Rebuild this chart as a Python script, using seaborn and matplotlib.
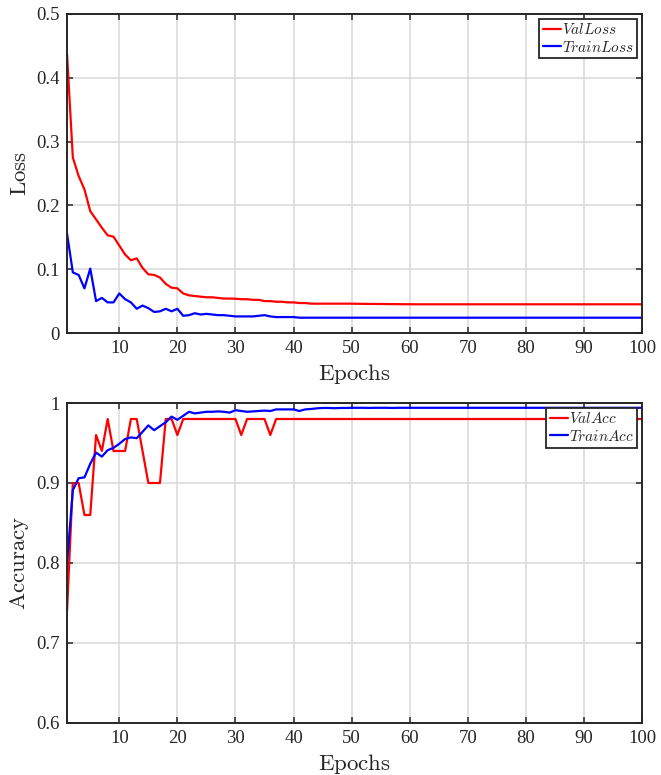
import numpy as np
import pandas as pd
import matplotlib
matplotlib.use("Agg")
import matplotlib.pyplot as plt
import seaborn as sns

epochs = list(range(1, 101))

val_loss = [0.437, 0.275, 0.246, 0.225, 0.191, 0.178, 0.165, 0.153, 0.151, 0.137,
            0.123, 0.114, 0.117, 0.102, 0.092, 0.091, 0.087, 0.077, 0.071, 0.070,
            0.062, 0.059, 0.058, 0.057, 0.056, 0.056, 0.055, 0.054, 0.054, 0.0537,
            0.053, 0.053, 0.052, 0.052, 0.050, 0.050, 0.049, 0.049, 0.048, 0.048,
            0.047, 0.047, 0.046, 0.046, 0.046, 0.046, 0.046, 0.046, 0.046, 0.046,
            0.0458, 0.0457, 0.0456, 0.0455, 0.0455, 0.0454, 0.0453, 0.0452, 0.0451, 0.0451,
            0.045, 0.045, 0.045, 0.045, 0.045, 0.045, 0.045, 0.045, 0.045, 0.045,
            0.045, 0.045, 0.045, 0.045, 0.045, 0.045, 0.045, 0.045, 0.045, 0.045,
            0.045, 0.045, 0.045, 0.045, 0.045, 0.045, 0.045, 0.045, 0.045, 0.045,
            0.045, 0.045, 0.045, 0.045, 0.045, 0.045, 0.045, 0.045, 0.045, 0.045]

train_loss = [0.156, 0.095, 0.091, 0.070, 0.101, 0.050, 0.055, 0.048, 0.048, 0.062,
              0.053, 0.048, 0.038, 0.043, 0.039, 0.033, 0.034, 0.038, 0.034, 0.038,
              0.027, 0.028, 0.031, 0.029, 0.030, 0.029, 0.028, 0.028, 0.027, 0.026,
              0.026, 0.026, 0.026, 0.027, 0.028, 0.026, 0.025, 0.025, 0.025, 0.025,
              0.024, 0.024, 0.024, 0.024, 0.024, 0.024, 0.024, 0.024, 0.024, 0.024,
              0.024, 0.024, 0.024, 0.024, 0.024, 0.024, 0.024, 0.024, 0.024, 0.024,
              0.024, 0.024, 0.024, 0.024, 0.024, 0.024, 0.024, 0.024, 0.024, 0.024,
              0.024, 0.024, 0.024, 0.024, 0.024, 0.024, 0.024, 0.024, 0.024, 0.024,
              0.024, 0.024, 0.024, 0.024, 0.024, 0.024, 0.024, 0.024, 0.024, 0.024,
              0.024, 0.024, 0.024, 0.024, 0.024, 0.024, 0.024, 0.024, 0.024, 0.024]

val_acc = [0.74, 0.90, 0.90, 0.86, 0.86, 0.96, 0.94, 0.98, 0.94, 0.94,
           0.94, 0.98, 0.98, 0.94, 0.90, 0.90, 0.90, 0.98, 0.98, 0.96,
           0.98, 0.98, 0.98, 0.98, 0.98, 0.98, 0.98, 0.98, 0.98, 0.98,
           0.96, 0.98, 0.98, 0.98, 0.98, 0.96, 0.98, 0.98, 0.98, 0.98,
           0.98, 0.98, 0.98, 0.98, 0.98, 0.98, 0.98, 0.98, 0.98, 0.98,
           0.98, 0.98, 0.98, 0.98, 0.98, 0.98, 0.98, 0.98, 0.98, 0.98,
           0.98, 0.98, 0.98, 0.98, 0.98, 0.98, 0.98, 0.98, 0.98, 0.98,
           0.98, 0.98, 0.98, 0.98, 0.98, 0.98, 0.98, 0.98, 0.98, 0.98,
           0.98, 0.98, 0.98, 0.98, 0.98, 0.98, 0.98, 0.98, 0.98, 0.98,
           0.98, 0.98, 0.98, 0.98, 0.98, 0.98, 0.98, 0.98, 0.98, 0.98]

train_acc = [0.800, 0.891, 0.906, 0.907, 0.924, 0.938, 0.933, 0.941, 0.944, 0.949,
             0.955, 0.957, 0.956, 0.964, 0.972, 0.966, 0.971, 0.976, 0.983, 0.979,
             0.984, 0.989, 0.987, 0.988, 0.989, 0.989, 0.9895, 0.989, 0.988, 0.991,
             0.990, 0.989, 0.9895, 0.990, 0.9905, 0.990, 0.992, 0.992, 0.992, 0.992,
             0.990, 0.992, 0.9925, 0.9933, 0.9938, 0.9938, 0.9935, 0.9938, 0.9938, 0.994,
             0.994, 0.994, 0.9938, 0.994, 0.994, 0.994, 0.9938, 0.994, 0.994, 0.994,
             0.994, 0.994, 0.994, 0.994, 0.994, 0.994, 0.994, 0.994, 0.994, 0.994,
             0.994, 0.994, 0.994, 0.994, 0.994, 0.994, 0.994, 0.994, 0.994, 0.994,
             0.994, 0.994, 0.994, 0.994, 0.994, 0.994, 0.994, 0.994, 0.994, 0.994,
             0.994, 0.994, 0.994, 0.994, 0.994, 0.994, 0.994, 0.994, 0.994, 0.994]

x_ticks = [10, 20, 30, 40, 50, 60, 70, 80, 90, 100]
loss_ticks = [0, 0.1, 0.2, 0.3, 0.4, 0.5]
loss_tick_labels = ["0", "0.1", "0.2", "0.3", "0.4", "0.5"]
acc_ticks = [0.6, 0.7, 0.8, 0.9, 1.0]
acc_tick_labels = ["0.6", "0.7", "0.8", "0.9", "1"]

sns.set_theme(style="whitegrid")
plt.rcParams["font.family"] = ["Liberation Serif", "DejaVu Serif"]
plt.rcParams["mathtext.fontset"] = "cm"

spine_c = "#262626"
grid_c = "#d8d8d8"

fig = plt.figure(figsize=(6.61, 7.75), dpi=100)
ax1 = fig.add_axes([0.1014, 0.5703, 0.8699, 0.4117])
ax2 = fig.add_axes([0.1014, 0.0671, 0.8699, 0.4129])

loss_df = pd.DataFrame({"Epoch": epochs * 2,
                        "Value": val_loss + train_loss,
                        "Series": ["$ValLoss$"] * 100 + ["$TrainLoss$"] * 100})
acc_df = pd.DataFrame({"Epoch": epochs * 2,
                       "Value": val_acc + train_acc,
                       "Series": ["$ValAcc$"] * 100 + ["$TrainAcc$"] * 100})

sns.lineplot(data=loss_df, x="Epoch", y="Value", hue="Series",
             palette=["#ff0000", "#0000ff"], linewidth=1.6, ax=ax1)
sns.lineplot(data=acc_df, x="Epoch", y="Value", hue="Series",
             palette=["#ff0000", "#0000ff"], linewidth=1.6, ax=ax2)

def style(ax, yticks, ylabels, ylim, ylabel):
    ax.set_xlim(1, 100)
    ax.set_ylim(*ylim)
    ax.set_xticks(x_ticks)
    ax.set_xticklabels([str(t) for t in x_ticks])
    ax.set_yticks(yticks)
    ax.set_yticklabels(ylabels)
    ax.set_facecolor("white")
    ax.grid(True, color=grid_c, linewidth=1.1)
    for s in ax.spines.values():
        s.set_visible(True)
        s.set_color(spine_c)
        s.set_linewidth(1.4)
    ax.tick_params(axis="both", which="both", direction="in", length=4,
                   width=1.1, color=spine_c, labelsize=13.5, labelcolor="#262626",
                   top=True, right=True, bottom=True, left=True, pad=5)
    ax.set_xlabel(r"$\mathrm{Epochs}$", fontsize=16.5, color="#262626", labelpad=3.5)
    ax.set_ylabel(r"$\mathrm{" + ylabel + "}$", fontsize=16.5, color="#262626", labelpad=4)
    leg = ax.legend(loc="upper right", fontsize=11, frameon=True, fancybox=False,
                    framealpha=1, edgecolor=spine_c, handlelength=1.2,
                    handletextpad=0.05, borderpad=0.25, labelspacing=0.15,
                    borderaxespad=0.3)
    leg.get_frame().set_linewidth(1.3)
    leg.set_title(None)

style(ax1, loss_ticks, loss_tick_labels, (0, 0.5), "Loss")
style(ax2, acc_ticks, acc_tick_labels, (0.6, 1.0), "Accuracy")

fig.savefig("out.png", dpi=100, facecolor="white")
